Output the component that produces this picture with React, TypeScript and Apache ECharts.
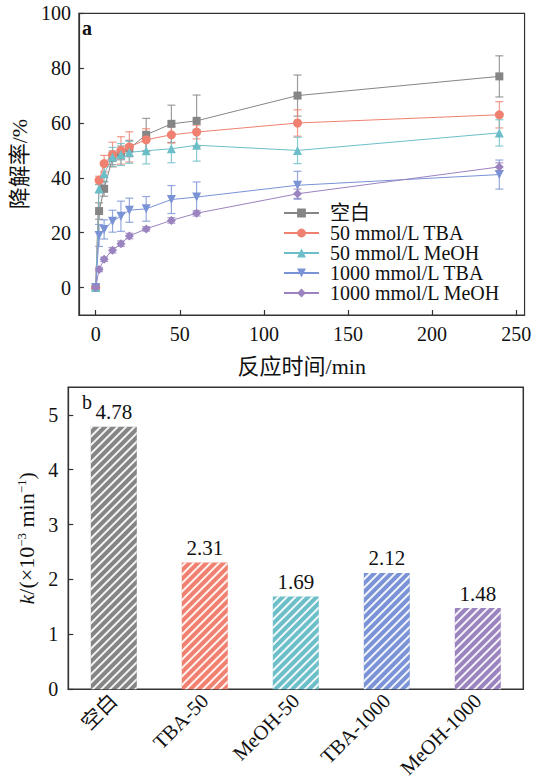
import React, { useEffect, useRef } from "react";
import * as echarts from "echarts";

const times = [0, 2, 5, 10, 15, 20, 30, 45, 60, 120, 240];
const seriesNames = ["空白", "50 mmol/L TBA", "50 mmol/L MeOH", "1000 mmol/L TBA", "1000 mmol/L MeOH"];
const blankVals = [0, 27.9, 36.0, 47.3, 49.1, 50.7, 55.7, 59.7, 60.8, 70.0, 77.0];
const blankErr = [0.5, 3.0, 2.7, 2.5, 2.5, 3.0, 6.0, 6.8, 9.4, 7.5, 7.5];
const tba50Vals = [0, 39.1, 45.2, 48.5, 50.0, 51.3, 53.9, 55.7, 56.7, 60.0, 63.0];
const tba50Err = [0.5, 1.5, 3.0, 4.5, 5.0, 5.5, 4.0, 3.0, 2.5, 4.8, 4.8];
const meoh50Vals = [0, 36.0, 41.5, 47.6, 48.5, 49.3, 49.9, 50.6, 51.9, 50.0, 56.4];
const meoh50Err = [0.5, 1.5, 3.0, 3.5, 4.0, 4.0, 4.8, 5.1, 5.8, 4.8, 4.8];
const tba1000Vals = [0, 19.0, 21.2, 24.2, 26.0, 28.2, 28.7, 32.1, 33.0, 37.3, 41.2];
const tba1000Err = [0.5, 4.0, 3.5, 4.0, 5.5, 4.4, 4.5, 5.1, 5.5, 5.1, 5.3];
const meoh1000Vals = [0, 6.6, 10.3, 13.6, 16.0, 18.8, 21.4, 24.5, 27.1, 34.2, 44.0];
const meoh1000Err = [0.3, 0.8, 0.8, 1.0, 1.0, 1.0, 0.8, 1.0, 1.0, 1.7, 1.5];

const xTicksTop = [0, 50, 100, 150, 200, 250];
const yTicksTop = [0, 20, 40, 60, 80, 100];

const barCategories = ["空白", "TBA-50", "MeOH-50", "TBA-1000", "MeOH-1000"];
const barValues = [4.78, 2.31, 1.69, 2.12, 1.48];
const yTicksBottom = [0, 1, 2, 3, 4, 5];

const colors = ["#858585", "#F0806F", "#6CBEC8", "#7A92D6", "#9A83BE"];
const symbols = ["rect", "circle", "triangle", "path://M0,0 L10,0 L5,10 Z", "diamond"];

const FONT = "'Liberation Serif', 'Noto Sans CJK SC', serif";

export default function App() {
  const ref = useRef<HTMLDivElement>(null);
  useEffect(() => {
    document.body.style.margin = "0";
    const chart = echarts.init(ref.current!, null, { renderer: "svg" });
    const vals = [blankVals, tba50Vals, meoh50Vals, tba1000Vals, meoh1000Vals];
    const errs = [blankErr, tba50Err, meoh50Err, tba1000Err, meoh1000Err];

    const lineSeries: any[] = vals.map((v, i) => ({
      name: seriesNames[i],
      type: "line",
      xAxisIndex: 0,
      yAxisIndex: 0,
      data: times.map((t, j) => [t, v[j]]),
      symbol: symbols[i],
      symbolSize: i === 0 ? 8 : 9,
      lineStyle: { color: colors[i], width: 1 },
      itemStyle: { color: colors[i] },
      z: 3,
    }));

    const errSeries: any[] = vals.map((v, i) => ({
      name: "err" + i,
      type: "custom",
      xAxisIndex: 0,
      yAxisIndex: 0,
      data: times.map((t, j) => [t, v[j] - errs[i][j], v[j] + errs[i][j]]),
      encode: { x: 0, y: [1, 2] },
      z: 2,
      renderItem: (params: any, api: any) => {
        const x = api.value(0);
        const lo = api.coord([x, api.value(1)]);
        const hi = api.coord([x, api.value(2)]);
        const w = 4;
        const style = { stroke: colors[i], lineWidth: 1.2, opacity: 0.8 };
        return {
          type: "group",
          children: [
            { type: "line", shape: { x1: hi[0], y1: hi[1], x2: lo[0], y2: lo[1] }, style },
            { type: "line", shape: { x1: hi[0] - w, y1: hi[1], x2: hi[0] + w, y2: hi[1] }, style },
            { type: "line", shape: { x1: lo[0] - w, y1: lo[1], x2: lo[0] + w, y2: lo[1] }, style },
          ],
        };
      },
    }));

    const axisLineStyle = { color: "#333", width: 1.2 };

    chart.setOption({
      animation: false,
      textStyle: { fontFamily: FONT },
      grid: [
        { left: 70.7, top: 13.3, width: 455, height: 301.7, show: true, borderColor: "#333", borderWidth: 1.2 },
        { left: 68.3, top: 387.3, width: 455, height: 302, show: true, borderColor: "#333", borderWidth: 1.5 },
      ],
      legend: {
        data: seriesNames,
        orient: "vertical",
        left: 278,
        top: 198,
        itemGap: 0,
        itemWidth: 35,
        itemHeight: 11,
        textStyle: { fontFamily: FONT, fontSize: 20, color: "#111", padding: [0, 0, 0, 6] },
      },
      xAxis: [
        {
          type: "value",
          gridIndex: 0,
          min: -10,
          max: 255,
          splitLine: { show: false },
          axisLine: { onZero: false, lineStyle: axisLineStyle },
          axisTick: { inside: true, length: 5, customValues: xTicksTop, lineStyle: axisLineStyle },
          axisLabel: { customValues: xTicksTop, fontSize: 20, color: "#111", margin: 9, fontFamily: FONT },
          name: "反应时间/min",
          nameLocation: "middle",
          nameGap: 40,
          nameTextStyle: { fontSize: 22, color: "#111", fontFamily: FONT },
        },
        {
          type: "category",
          gridIndex: 1,
          data: barCategories,
          axisLine: { onZero: false, lineStyle: axisLineStyle },
          axisTick: { show: false },
          axisLabel: { rotate: 45, fontSize: 20.5, color: "#111", margin: 8, interval: 0, fontFamily: FONT },
        },
      ],
      yAxis: [
        {
          type: "value",
          gridIndex: 0,
          min: -10,
          max: 100,
          splitLine: { show: false },
          axisLine: { show: true, onZero: false, lineStyle: axisLineStyle },
          axisTick: { show: true, inside: true, length: 5, customValues: yTicksTop, lineStyle: axisLineStyle },
          axisLabel: { customValues: yTicksTop, fontSize: 20, color: "#111", margin: 8, fontFamily: FONT },
          name: "降解率/%",
          nameLocation: "middle",
          nameRotate: 90,
          nameGap: 38,
          nameTextStyle: { fontSize: 22, color: "#111", fontFamily: FONT },
        },
        {
          type: "value",
          gridIndex: 1,
          min: 0,
          max: 5.5,
          splitLine: { show: false },
          axisLine: { show: true, onZero: false, lineStyle: axisLineStyle },
          axisTick: { show: true, inside: true, length: 5, customValues: yTicksBottom, lineStyle: axisLineStyle },
          axisLabel: { customValues: yTicksBottom, fontSize: 20, color: "#111", margin: 10, fontFamily: FONT },
          name: "{i|k}{n|/(×10}{s|−3}{n| min}{s|−1}{n|)}",
          nameLocation: "middle",
          nameRotate: 90,
          nameGap: 30,
          nameTextStyle: {
            fontSize: 22,
            color: "#111",
            fontFamily: FONT,
            rich: {
              i: { fontSize: 22, fontStyle: "italic", fontFamily: FONT, color: "#111" },
              n: { fontSize: 22, fontFamily: FONT, color: "#111" },
              s: { fontSize: 13, fontFamily: FONT, color: "#111", verticalAlign: "top", padding: [0, 0, 9, 0] },
            },
          },
        },
      ],
      graphic: [
        { type: "text", left: 82, top: 18, style: { text: "a", font: "bold 20px " + FONT, fill: "#111" } },
        { type: "text", left: 82, top: 392, style: { text: "b", font: "20px " + FONT, fill: "#111" } },
      ],
      series: [
        ...errSeries,
        ...lineSeries,
        {
          type: "bar",
          xAxisIndex: 1,
          yAxisIndex: 1,
          barWidth: 46,
          data: barValues.map((v, i) => ({
            value: v,
            itemStyle: {
              color: colors[i],
              decal: {
                symbol: "rect",
                symbolSize: 1,
                dashArrayX: [1, 0],
                dashArrayY: [1.6, 4],
                rotation: -Math.PI / 4,
                color: "rgba(255,255,255,0.9)",
              },
            },
          })),
          label: {
            show: true,
            position: "top",
            distance: 4,
            fontSize: 21,
            color: "#111",
            fontFamily: FONT,
            formatter: (p: any) => p.value.toFixed(2),
          },
        },
      ],
    });
    return () => chart.dispose();
  }, []);
  return <div ref={ref} style={{ width: 534, height: 781 }} />;
}
